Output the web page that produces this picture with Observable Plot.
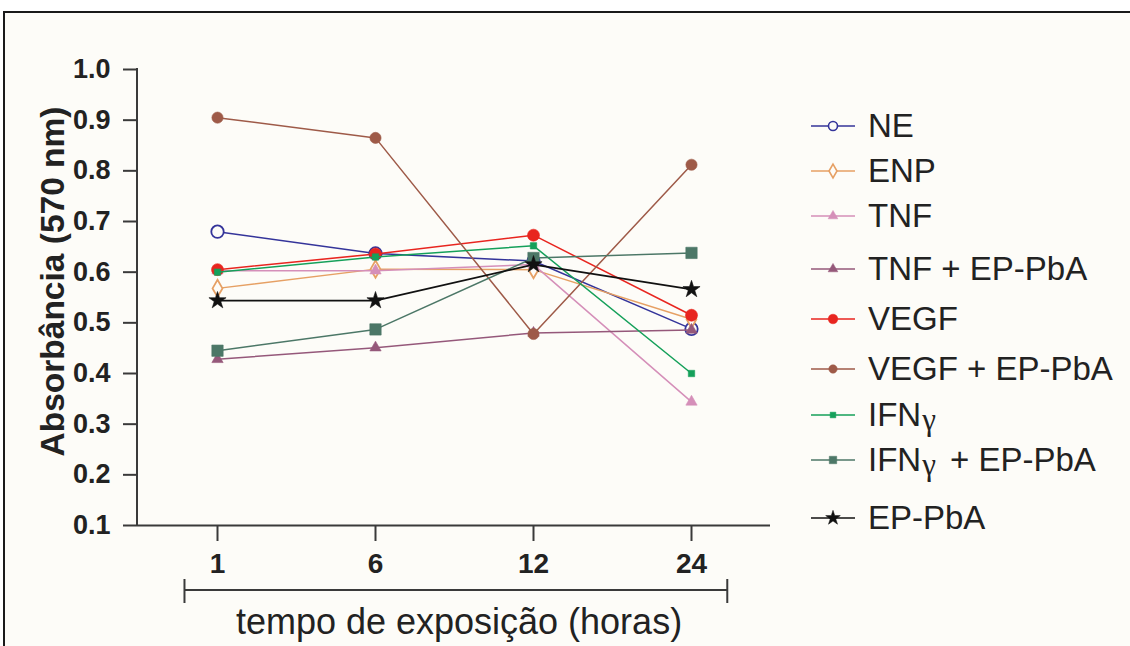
<!DOCTYPE html>
<html><head><meta charset="utf-8">
<script src="https://cdn.jsdelivr.net/npm/d3@7"></script>
<script src="https://cdn.jsdelivr.net/npm/@observablehq/plot@0.6"></script>
<style>
body{margin:0;background:#fff;width:1130px;height:646px;overflow:hidden;position:relative;font-family:"Liberation Sans",Arial,sans-serif;}
#frame{position:absolute;left:3px;top:11px;width:1200px;height:700px;border:2px solid #1a1a1a;background:#fdfcf8;}
#chart{position:absolute;left:0;top:0;}
#legend{position:absolute;left:0;top:0;width:1130px;height:646px;}
.item{position:absolute;left:808px;height:40px;display:flex;align-items:center;font-size:33px;color:#222;white-space:nowrap;}
.item svg{margin-right:10px;}
.g{font-family:"Liberation Serif","DejaVu Serif",serif;font-size:31px;position:relative;top:4px;margin:0 5px 0 1px;}
</style></head><body>
<div id="frame"></div>
<div id="chart"></div>
<div id="legend"></div>
<script>
// ---- data ----
const times = ["1", "6", "12", "24"];
const yTicks = [0.1, 0.2, 0.3, 0.4, 0.5, 0.6, 0.7, 0.8, 0.9, 1.0];
const seriesNames = ["NE", "ENP", "TNF", "TNF + EP-PbA", "VEGF", "VEGF + EP-PbA", "IFNγ", "IFNγ + EP-PbA", "EP-PbA"];
const ne     = [0.680, 0.637, 0.622, 0.488];
const enp    = [0.568, 0.606, 0.605, 0.507];
const tnf    = [0.603, 0.603, 0.615, 0.344];
const tnfEp  = [0.428, 0.451, 0.480, 0.486];
const vegf   = [0.605, 0.636, 0.673, 0.515];
const vegfEp = [0.905, 0.865, 0.478, 0.812];
const ifng   = [0.600, 0.630, 0.652, 0.400];
const ifngEp = [0.445, 0.487, 0.628, 0.638];
const epPba  = [0.544, 0.544, 0.615, 0.566];
const seriesValues = [ne, enp, tnf, tnfEp, vegf, vegfEp, ifng, ifngEp, epPba];

// ---- styles ----
const BG = "#fdfcf8";
const styles = [
  {color: "#34349a", symbol: "circle",   r: 6.2, open: true,  lr: 4.5},
  {color: "#e6a064", symbol: "diamond",  r: 5.2, open: true,  lr: 4.2},
  {color: "#d58fb9", symbol: "triangle", r: 4.2, open: false, lr: 3.6},
  {color: "#95587a", symbol: "triangle", r: 4.2, open: false, lr: 3.6},
  {color: "#e8251f", symbol: "circle",   r: 6.0, open: false, lr: 4.8},
  {color: "#9e5a48", symbol: "circle",   r: 5.6, open: false, lr: 4.2},
  {color: "#15a05a", symbol: "square",   r: 3.6, open: false, lr: 3.2},
  {color: "#4c7767", symbol: "square",   r: 6.4, open: false, lr: 4.2},
  {color: "#111111", symbol: "star",     r: 5.4, open: false, lr: 4.6}
];
const legendY = [126, 171, 216, 269, 319, 369, 415, 460, 518];

const W = 1130, H = 646, mL = 137, mR = 360, mT = 69, mB = 121;
const axisColor = "#3a3a3a";

const marks = [];
seriesValues.forEach((vals, k) => {
  const s = styles[k];
  const data = times.map((t, i) => ({time: t, value: vals[i], series: seriesNames[k]}));
  marks.push(Plot.line(data, {x: "time", y: "value", stroke: s.color, strokeWidth: k === 8 ? 1.8 : 1.5}));
  marks.push(Plot.dot(data, {x: "time", y: "value", symbol: s.symbol, r: s.r,
    fill: s.open ? BG : s.color, stroke: s.color, strokeWidth: s.open ? 1.8 : 0.6}));
});

const plot = Plot.plot({
  width: W, height: H,
  marginLeft: mL, marginRight: mR, marginTop: mT, marginBottom: mB,
  style: {background: "transparent", fontFamily: "'Liberation Sans', Arial, sans-serif", color: "#222", overflow: "visible"},
  x: {type: "point", domain: times, padding: 0.5},
  y: {domain: [0.1, 1.0]},
  marks: [
    Plot.axisY({ticks: yTicks, tickFormat: d => d.toFixed(1), tickSize: 14, tickPadding: 13,
      fontSize: 27, fontWeight: "bold", label: null, stroke: axisColor, strokeWidth: 2, fill: "#222"}),
    Plot.axisX({tickSize: 16, tickPadding: 12, fontSize: 28, fontWeight: "bold", label: null,
      stroke: axisColor, strokeWidth: 2, fill: "#222"}),
    Plot.ruleY([0.1], {stroke: axisColor, strokeWidth: 2}),
    Plot.text(["Absorbância (570 nm)"], {text: d => d, frameAnchor: "left", textAnchor: "middle", lineAnchor: "middle",
      rotate: -90, dx: -84, dy: -16, fontSize: 33.5, fontWeight: "bold", fill: "#222"}),
    Plot.text(["tempo de exposição (horas)"], {text: d => d, frameAnchor: "bottom", textAnchor: "middle",
      dx: 5, dy: 108, fontSize: 36, fill: "#222"}),
    ...marks
  ]
});
document.getElementById("chart").appendChild(plot);

// axis line & bracket decorations
const svg = d3.select(plot);
const ys = d3.scaleLinear().domain([0.1, 1.0]).range([H - mB, mT]);
const xs = d3.scalePoint().domain(times).range([mL, W - mR]).padding(0.5);
svg.append("line").attr("x1", mL).attr("x2", mL).attr("y1", ys(1.0) - 1).attr("y2", ys(0.1) + 1)
  .attr("stroke", axisColor).attr("stroke-width", 2);
const step = xs.step();
const bx1 = xs(times[0]) - 0.2 * step, bx2 = xs(times[3]) + 0.23 * step, by = H - mB + 65;
const br = svg.append("g").attr("stroke", axisColor).attr("stroke-width", 2);
br.append("line").attr("x1", bx1).attr("x2", bx2).attr("y1", by).attr("y2", by);
br.append("line").attr("x1", bx1).attr("x2", bx1).attr("y1", by - 11).attr("y2", by + 13);
br.append("line").attr("x1", bx2).attr("x2", bx2).attr("y1", by - 11).attr("y2", by + 13);

// legend
const legend = document.getElementById("legend");
const symMap = {circle: d3.symbolCircle, diamond: d3.symbolDiamond, triangle: d3.symbolTriangle, square: d3.symbolSquare, star: d3.symbolStar};
seriesNames.forEach((name, k) => {
  const s = styles[k];
  const div = document.createElement("div");
  div.className = "item";
  div.style.top = (legendY[k] - 20) + "px";
  const sw = d3.create("svg").attr("width", 50).attr("height", 40);
  sw.append("line").attr("x1", 3).attr("x2", 47).attr("y1", 20).attr("y2", 20).attr("stroke", s.color).attr("stroke-width", 1.6);
  sw.append("path").attr("transform", "translate(25,20)")
    .attr("d", d3.symbol(symMap[s.symbol], Math.PI * s.lr * s.lr)())
    .attr("fill", s.open ? BG : s.color).attr("stroke", s.color).attr("stroke-width", s.open ? 1.6 : 0.5);
  div.appendChild(sw.node());
  const span = document.createElement("span");
  if (name.includes("γ")) {
    const parts = name.split("γ");
    span.innerHTML = parts[0] + '<span class="g">γ</span>' + parts[1];
  } else span.textContent = name;
  div.appendChild(span);
  legend.appendChild(div);
});
</script>
</body></html>
